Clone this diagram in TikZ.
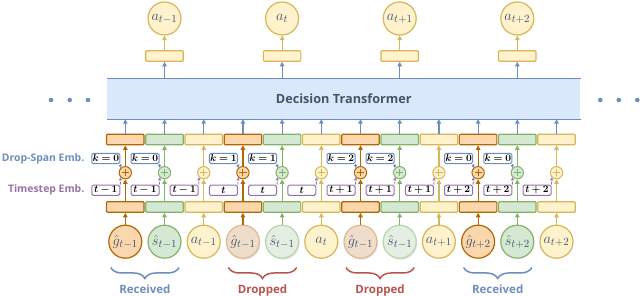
\documentclass[tikz,border=0pt]{standalone}
\usepackage{amsmath,bm}
\usepackage{fontspec}
\setsansfont{Open Sans}
\usetikzlibrary{arrows.meta,decorations.pathreplacing,shadows,calc}
\definecolor{orF}{HTML}{FAD7AC}\definecolor{orD}{HTML}{B46504}
\definecolor{grF}{HTML}{D5E8D4}\definecolor{grD}{HTML}{82B366}
\definecolor{yeF}{HTML}{FFF2CC}\definecolor{yeD}{HTML}{D6B656}
\definecolor{blF}{HTML}{DAE8FC}\definecolor{blD}{HTML}{6C8EBF}
\definecolor{puD}{HTML}{9673A6}\definecolor{reD}{HTML}{B85450}
\definecolor{orXF}{HTML}{EFDDCB}\definecolor{orXD}{HTML}{E2B68E}
\definecolor{grXF}{HTML}{E4EEE2}\definecolor{grXD}{HTML}{B7D6A8}
\definecolor{txt}{HTML}{44546A}
\tikzset{
  arr/.style={line width=1.2pt,-{Triangle[length=4.5pt,width=4.5pt]}},
  darr/.style={line width=0.9pt,densely dashed,-{Triangle[length=3pt,width=3pt]}},
  tok/.style={rectangle,draw,line width=1.2pt,minimum width=37.5pt,minimum height=10.5pt,inner sep=0pt,rounded corners=1pt},
  circ/.style={circle,draw,line width=1.2pt,minimum size=33pt,inner sep=0pt,text=txt,font=\fontsize{15.5}{15.5}\selectfont},
  lbl/.style={rectangle,draw,fill=white,line width=1pt,rounded corners=1.5pt,minimum width=28pt,minimum height=10.2pt,inner sep=0pt,font=\fontsize{9.6}{9.6}\selectfont},
  side/.style={anchor=east,font=\sffamily\bfseries\fontsize{10.4}{11}\selectfont},
  grp/.style={anchor=base,font=\sffamily\bfseries\fontsize{11.5}{11}\selectfont},
  brc/.style={decorate,decoration={brace,amplitude=11pt,mirror},line width=1.5pt},
  dotn/.style={circle,fill=blD,minimum size=4.6pt,inner sep=0pt},
}
\begin{document}
\begin{tikzpicture}[x=1pt,y=-1pt]
\useasboundingbox (0,0) rectangle (640,296);
% transformer
\node[fill=blF,minimum width=473pt,minimum height=40pt,inner sep=0pt] (dt) at (343.8,99) {};
\draw[blD,line width=1.2pt] (dt.north west) -- (dt.north east);
\draw[blD,line width=1.2pt] (dt.south west) -- (dt.south east);
\node[font=\sffamily\bfseries\fontsize{12.7}{12}\selectfont,text=txt] (dtl) at (dt.center) {Decision Transformer};
\node[dotn] (dl1) at (51,100) {};
\node[dotn] (dl2) at (69.7,100) {};
\node[dotn] (dl3) at (88,100) {};
\node[dotn] (dr1) at (600.3,100) {};
\node[dotn] (dr2) at (618.8,100) {};
\node[dotn] (dr3) at (637.3,100) {};
% side labels
\node[side,text=blD] (dse) at (87.8,158.5) {Drop-Span Emb.};
\node[side,text=puD] (tse) at (87.8,190.3) {Timestep Emb.};
% columns
\foreach \i/\ty/\ts/\kk/\lab/\dr in {
  0/or/t-1/0/{\hat{g}_{t-1}}/0, 1/gr/t-1/0/{\hat{s}_{t-1}}/0, 2/ye/t-1/-/{a_{t-1}}/0,
  3/or/t/1/{\hat{g}_{t-1}}/1, 4/gr/t/1/{\hat{s}_{t-1}}/1, 5/ye/t/-/{a_{t}}/0,
  6/or/t+1/2/{\hat{g}_{t-1}}/1, 7/gr/t+1/2/{\hat{s}_{t-1}}/1, 8/ye/t+1/-/{a_{t+1}}/0,
  9/or/t+2/0/{\hat{g}_{t+2}}/0, 10/gr/t+2/0/{\hat{s}_{t+2}}/0, 11/ye/t+2/-/{a_{t+2}}/0}{
  \pgfmathsetmacro{\cx}{125.3+39.2*\i}
  \node[tok,draw=\ty D,fill=\ty F] (u\i) at (\cx,139.5) {};
  \node[tok,draw=\ty D,fill=\ty F] (l\i) at (\cx,207) {};
  \ifnum\dr=1
    \node[circ,draw=\ty XD,fill=\ty XF,drop shadow={shadow xshift=1pt,shadow yshift=-1.5pt,opacity=0.22}] (c\i) at (\cx,241.7) {$\lab$};
  \else
    \node[circ,draw=\ty D,fill=\ty F] (c\i) at (\cx,241.7) {$\lab$};
  \fi
  \node[circle,draw=\ty D,fill=\ty F,line width=1pt,minimum size=12.3pt,inner sep=0pt] (p\i) at (\cx,172.7) {};
  \draw[\ty D,line width=1pt] ([xshift=-3.6pt]p\i.center) -- ([xshift=3.6pt]p\i.center);
  \draw[\ty D,line width=1pt] ([yshift=-3.6pt]p\i.center) -- ([yshift=3.6pt]p\i.center);
  \draw[arr,\ty D] (c\i) -- (l\i);
  \draw[arr,\ty D] (l\i) -- (p\i);
  \draw[arr,\ty D] (p\i) -- (u\i);
  \draw[arr,blD] (u\i.north) -- (u\i.north |- dt.south);
  \node[lbl,draw=puD] (t\i) at (\cx-19.5,190.3) {$\bm{\ts}$};
  \draw[darr,puD] (t\i.north east) -- (p\i.225);
  \if\kk-\else
    \node[lbl,draw=blD] (k\i) at (\cx-19.5,158.5) {$\bm{k=\kk}$};
    \draw[darr,blD] (k\i.south east) -- (p\i.135);
  \fi
}
% outputs
\foreach \i/\lab in {1/{a_{t-1}},4/{a_{t}},7/{a_{t+1}},10/{a_{t+2}}}{
  \pgfmathsetmacro{\cx}{125.3+39.2*\i}
  \node[tok,draw=yeD,fill=yeF] (o\i) at (\cx,56) {};
  \node[circ,draw=yeD,fill=yeF] (a\i) at (\cx,18.5) {$\lab$};
  \draw[arr,blD] (o\i.south |- dt.north) -- (o\i.south);
  \draw[arr,yeD] (o\i) -- (a\i);
}
% braces
\foreach \n/\a/\b/\c/\t in {1/0/1/blD/Received,2/3/4/reD/Dropped,3/6/7/reD/Dropped,4/9/10/blD/Received}{
  \pgfmathsetmacro{\xa}{125.3+39.2*\a-14.5}
  \pgfmathsetmacro{\xb}{125.3+39.2*\b+14.5}
  \coordinate (ba\n) at (\xa,267.5);
  \coordinate (bb\n) at (\xb,267.5);
  \draw[brc,\c] (ba\n) -- (bb\n);
  \node[grp,text=\c] (g\n) at ($(ba\n)!0.5!(bb\n)+(0,26.5)$) {\t};
}
\end{tikzpicture}
\end{document}
